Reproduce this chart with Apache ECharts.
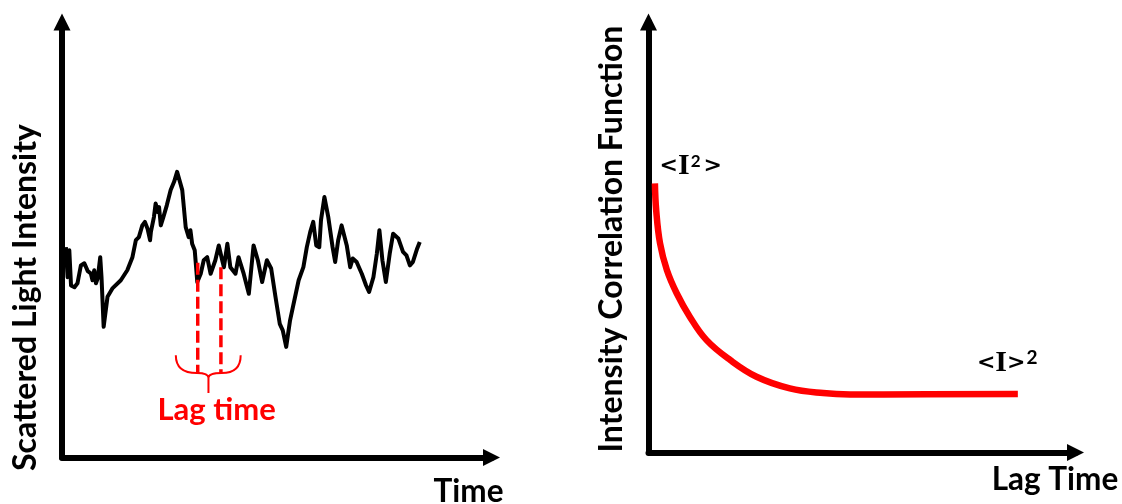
<!DOCTYPE html>
<html><head><meta charset="utf-8">
<script src="https://cdn.jsdelivr.net/npm/echarts@6/dist/echarts.min.js"></script>
<style>html,body{margin:0;padding:0;background:#fff}#c{width:1122px;height:504px}</style>
</head><body><div id="c"></div>
<script>
// ---------- Left panel: scattered light intensity vs time (arbitrary units 0-100) ----------
const traceTime = [0.9,1.3,1.7,2.1,2.9,3.6,4.4,5.2,6.0,6.7,
  7.1,7.5,7.9,8.3,8.9,9.2,9.7,10.6,11.8,13.7,
  15.2,16.4,17.2,17.9,18.7,19.3,19.9,20.5,20.7,21.4,
  21.8,22.3,22.6,23.0,23.6,24.4,25.3,26.1,26.8,28.0,
  28.8,29.5,29.9,30.3,30.9,31.5,32.3,33.0,33.8,34.6,
  35.7,36.5,37.3,37.7,38.5,39.2,40.4,41.1,42.3,43.5,
  44.6,45.6,46.6,47.7,48.7,49.7,50.7,51.4,52.2,53.1,
  54.1,55.1,56.2,57.0,57.8,58.5,59.2,59.9,60.3,61.1,
  62.0,63.0,63.6,64.3,65.1,66.3,67.1,67.7,68.6,69.8,
  70.8,71.5,72.5,73.3,73.9,74.6,75.4,76.3,77.1,78.3,
  79.4,80.2,81.0,81.7,82.7,83.3];
const traceIntensity = [48.3,41.4,47.6,39.5,39.1,40.0,44.1,44.6,42.8,42.3,
  40.7,43.0,40.0,41.1,46.0,41.4,30.0,36.9,38.9,40.7,
  43.0,46.0,49.9,50.6,53.3,54.1,52.6,49.9,51.8,55.2,
  58.3,56.4,57.5,53.3,55.2,57.9,61.4,63.3,65.6,61.4,
  52.9,50.6,52.2,49.1,47.6,40.3,42.2,45.3,46.0,42.2,
  45.3,48.7,45.3,43.7,49.1,43.7,42.2,46.0,42.2,37.6,
  48.7,45.3,40.3,45.3,43.4,36.9,30.7,29.2,25.4,31.5,
  36.1,40.7,43.7,48.3,51.8,54.1,48.7,48.3,54.5,59.8,
  55.2,48.3,44.9,49.9,53.3,48.7,43.7,45.7,44.9,42.2,
  39.5,38.0,41.4,46.8,52.2,45.3,40.3,46.8,51.4,50.3,
  47.2,46.4,44.1,44.9,48.0,49.5];

// Lag markers (dashed verticals) and brace
const lagTimes = [31.6, 37.0];
const lagTopIntensity = [44.7, 43.7];
const lagBottomIntensity = 19.4;
const braceTimes = [26.5, 31.4, 34.1, 37.2, 41.6];   // left end, left join, centre, right join, right end
const braceLevels = [23.5, 19.4, 18.3, 14.8];        // arm ends, joins, cusp, stem end
const lagLabelText = 'Lag time';
const lagLabelPos = [36.0, 10.8];

// ---------- Right panel: intensity correlation function vs lag time ----------
const corrLag = [1.5, 1.8, 2.7, 4.3, 6.6, 9.7, 13.6, 19.1, 25.3, 33.1, 40.9, 47.2, 55.0, 86.5];
const corrValue = [62.5, 56.3, 48.6, 42.4, 37.0, 31.5, 26.1, 21.5, 17.6, 14.9, 13.8, 13.5, 13.5, 13.6];
const corrLabelTexts = ['{a|<}{i|I}{s|2}{a|>}', '{a|<}{i|I}{a|>}{t|2}'];
const corrLabelLag = [9.9, 84.0];
const corrLabelValue = [66.4, 20.8];

// ---------- Titles ----------
const titleLeftY = 'Scattered Light Intensity';
const titleLeftX = 'Time';
const titleRightY = 'Intensity Correlation Function';
const titleRightX = 'Lag Time';

const FONT = 'Lato';
const RED = '#ff0000';

function axisLine() {
  return {show: true, onZero: false, symbol: ['none', 'triangle'], symbolSize: [17, 17],
    lineStyle: {color: '#000', width: 6}};
}
function makeAxis(gridIndex) {
  return {gridIndex, type: 'value', min: 0, max: 100, axisLine: axisLine(),
    axisTick: {show: false}, axisLabel: {show: false}, splitLine: {show: false}};
}
const RICH = {
  a: {fontFamily: 'DejaVu Sans', fontWeight: 'bold', fontSize: 22, fill: '#000'},
  i: {fontFamily: 'Liberation Serif', fontWeight: 'bold', fontSize: 30, fill: '#000', padding: [0, 0, 0, 0]},
  s: {fontFamily: FONT, fontWeight: 'bold', fontSize: 17, fill: '#000', verticalAlign: 'top', padding: [1, 3, 0, 1]},
  t: {fontFamily: FONT, fontWeight: 'bold', fontSize: 19, fill: '#000', verticalAlign: 'top', padding: [0, 0, 0, 1]}
};

const chart = echarts.init(document.getElementById('c'), null, {renderer: 'canvas'});
const option = {
  animation: false,
  backgroundColor: '#fff',
  grid: [
    {left: 62, top: 22, width: 429.5, height: 435.5},
    {left: 648.5, top: 22, width: 427, height: 430.5}
  ],
  xAxis: [makeAxis(0), makeAxis(1)],
  yAxis: [makeAxis(0), makeAxis(1)],
  graphic: [
    {type: 'text', x: 25.5, y: 297.5, rotation: Math.PI / 2,
      style: {text: titleLeftY, font: 'bold 32px ' + FONT, fill: '#000', align: 'center', verticalAlign: 'middle'}},
    {type: 'text', x: 468.5, y: 492,
      style: {text: titleLeftX, font: 'bold 31.5px ' + FONT, fill: '#000', align: 'center', verticalAlign: 'middle'}},
    {type: 'text', x: 612, y: 239, rotation: Math.PI / 2,
      style: {text: titleRightY, font: 'bold 32px ' + FONT, fill: '#000', align: 'center', verticalAlign: 'middle'}},
    {type: 'text', x: 1055, y: 480,
      style: {text: titleRightX, font: 'bold 31.5px ' + FONT, fill: '#000', align: 'center', verticalAlign: 'middle'}}
  ],
  series: [
    {type: 'line', xAxisIndex: 0, yAxisIndex: 0, showSymbol: false, symbol: 'none', z: 3,
      lineStyle: {color: '#000', width: 4, join: 'round'},
      data: traceTime.map((t, i) => [t, traceIntensity[i]])},
    ...lagTimes.map((t, i) => ({
      type: 'line', xAxisIndex: 0, yAxisIndex: 0, symbol: 'none', z: 4,
      lineStyle: {color: RED, width: 3.5, type: [12, 5]},
      data: [[t, lagTopIntensity[i]], [t, lagBottomIntensity]]
    })),
    {type: 'custom', xAxisIndex: 0, yAxisIndex: 0, z: 4,
      data: [[braceTimes[2], braceLevels[2]]],
      renderItem: function (params, api) {
        const p = (t, v) => api.coord([t, v]);
        const [tL, tJL, tC, tJR, tR] = braceTimes;
        const [yEnd, yJoin, yTip, yStem] = braceLevels;
        const a = p(tL, yEnd), b = p(tL, yJoin), c = p(tJL, yJoin), d = p(tC, yJoin), e = p(tC, yTip), f = p(tC, yStem);
        const a2 = p(tR, yEnd), b2 = p(tR, yJoin), c2 = p(tJR, yJoin);
        const s = q => q[0] + ',' + q[1];
        const path = 'M' + s(a) + ' Q' + s(b) + ' ' + s(c) + ' Q' + s(d) + ' ' + s(e) + ' L' + s(f) +
          ' M' + s(a2) + ' Q' + s(b2) + ' ' + s(c2) + ' Q' + s(d) + ' ' + s(e);
        return {type: 'path', shape: {pathData: path}, style: {stroke: RED, fill: null, lineWidth: 2}};
      }},
    {type: 'custom', xAxisIndex: 0, yAxisIndex: 0, z: 5,
      data: [lagLabelPos],
      renderItem: function (params, api) {
        const pt = api.coord([api.value(0), api.value(1)]);
        return {type: 'text', x: pt[0], y: pt[1],
          style: {text: lagLabelText, font: 'bold 31px ' + FONT, fill: RED, align: 'center', verticalAlign: 'middle'}};
      }},
    {type: 'line', xAxisIndex: 1, yAxisIndex: 1, symbol: 'none', smooth: 0.4, z: 3,
      lineStyle: {color: RED, width: 6.5, cap: 'butt'},
      data: corrLag.map((t, i) => [t, corrValue[i]])},
    {type: 'custom', xAxisIndex: 1, yAxisIndex: 1, z: 5,
      data: corrLabelLag.map((t, i) => [t, corrLabelValue[i]]),
      renderItem: function (params, api) {
        const pt = api.coord([api.value(0), api.value(1)]);
        return {type: 'text', x: pt[0], y: pt[1],
          style: {text: corrLabelTexts[params.dataIndex], rich: RICH, fill: '#000',
            align: 'center', verticalAlign: 'middle'}};
      }}
  ]
};
chart.setOption(option);
</script>
</body></html>
